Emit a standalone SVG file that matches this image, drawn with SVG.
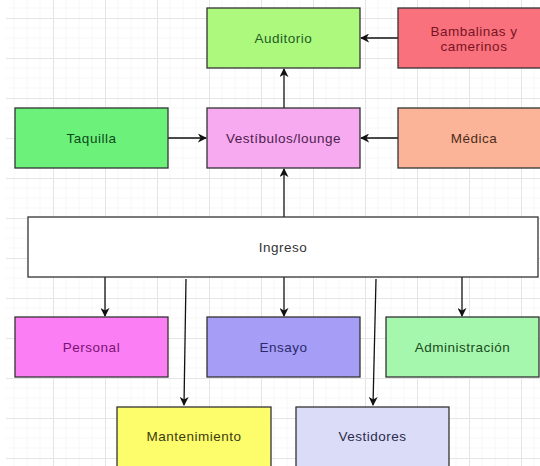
<svg xmlns="http://www.w3.org/2000/svg" width="540" height="466" viewBox="0 0 540 466">
<defs>
<pattern id="grid" x="1" y="18" width="52" height="40" patternUnits="userSpaceOnUse">
<path d="M13 0V40M26 0V40M39 0V40M0 10H52M0 20H52M0 30H52" stroke="#f7f7f7" stroke-width="1" fill="none"/>
<path d="M0.5 0V40M0 0.5H52" stroke="#e5e5e5" stroke-width="1" fill="none"/>
</pattern>
<marker id="arr" viewBox="0 0 10 10" refX="9" refY="5" markerWidth="9" markerHeight="9" markerUnits="userSpaceOnUse" orient="auto">
<path d="M0,0 L10,5 L0,10 L3,5 z" fill="#111"/>
</marker>
</defs>
<style>
.box{stroke:#333;stroke-width:1.3}
.lbl{font-family:"Liberation Sans",Arial,sans-serif;font-size:13.5px;letter-spacing:0.5px;text-anchor:middle;dominant-baseline:central}
.con{stroke:#111;stroke-width:1.3;fill:none;marker-end:url(#arr)}
</style>
<rect width="540" height="466" fill="#fff"/>
<rect x="6" y="0" width="534" height="466" fill="url(#grid)"/>

<g id="connectors">
<line class="con" x1="284" y1="108" x2="284" y2="69"/>
<line class="con" x1="284" y1="217" x2="284" y2="169"/>
<line class="con" x1="398" y1="38" x2="361" y2="38"/>
<line class="con" x1="398" y1="138" x2="361" y2="138"/>
<line class="con" x1="168" y1="138" x2="206" y2="138"/>
<line class="con" x1="105" y1="277" x2="105" y2="316"/>
<line class="con" x1="284" y1="277" x2="284" y2="316"/>
<line class="con" x1="462" y1="277" x2="462" y2="316"/>
<line class="con" x1="186" y1="279" x2="184" y2="405"/>
<line class="con" x1="376" y1="279" x2="373" y2="405"/>
</g>

<g id="auditorio"><rect class="box" x="207" y="8" width="153" height="60" fill="#acf97e"/><text class="lbl" x="283.5" y="38" fill="#235d23">Auditorio</text></g>
<g id="bambalinas"><rect class="box" x="398" y="8" width="153" height="60" fill="#f8717d"/><text class="lbl" x="474" y="31" fill="#7a1424">Bambalinas y</text><text class="lbl" x="474" y="46" fill="#7a1424">camerinos</text></g>
<g id="taquilla"><rect class="box" x="15" y="108" width="153" height="60" fill="#6cf27b"/><text class="lbl" x="91.5" y="138" fill="#0d4a1a">Taquilla</text></g>
<g id="vestibulos"><rect class="box" x="207" y="108" width="153" height="60" fill="#f7aaf0"/><text class="lbl" x="283.5" y="138" fill="#4d1d4d">Vestíbulos/lounge</text></g>
<g id="medica"><rect class="box" x="398" y="108" width="153" height="60" fill="#fbb497"/><text class="lbl" x="474" y="138" fill="#4d2c1c">Médica</text></g>
<g id="ingreso"><rect class="box" x="28" y="217" width="510" height="60" fill="#ffffff"/><text class="lbl" x="283" y="247" fill="#333">Ingreso</text></g>
<g id="personal"><rect class="box" x="15" y="317" width="153" height="60" fill="#fb7ef5"/><text class="lbl" x="91.5" y="347" fill="#7a1272">Personal</text></g>
<g id="ensayo"><rect class="box" x="207" y="317" width="153" height="60" fill="#a59df6"/><text class="lbl" x="283.5" y="347" fill="#2c2a6c">Ensayo</text></g>
<g id="administracion"><rect class="box" x="386" y="317" width="153" height="60" fill="#a4f7ad"/><text class="lbl" x="462.5" y="347" fill="#1c4a1c">Administración</text></g>
<g id="mantenimiento"><rect class="box" x="117" y="407" width="154" height="64" fill="#fdfd6b"/><text class="lbl" x="194" y="436" fill="#3c3c12">Mantenimiento</text></g>
<g id="vestidores"><rect class="box" x="296" y="407" width="153" height="64" fill="#dbdcf8"/><text class="lbl" x="372.5" y="436" fill="#2c2c4c">Vestidores</text></g>
</svg>
